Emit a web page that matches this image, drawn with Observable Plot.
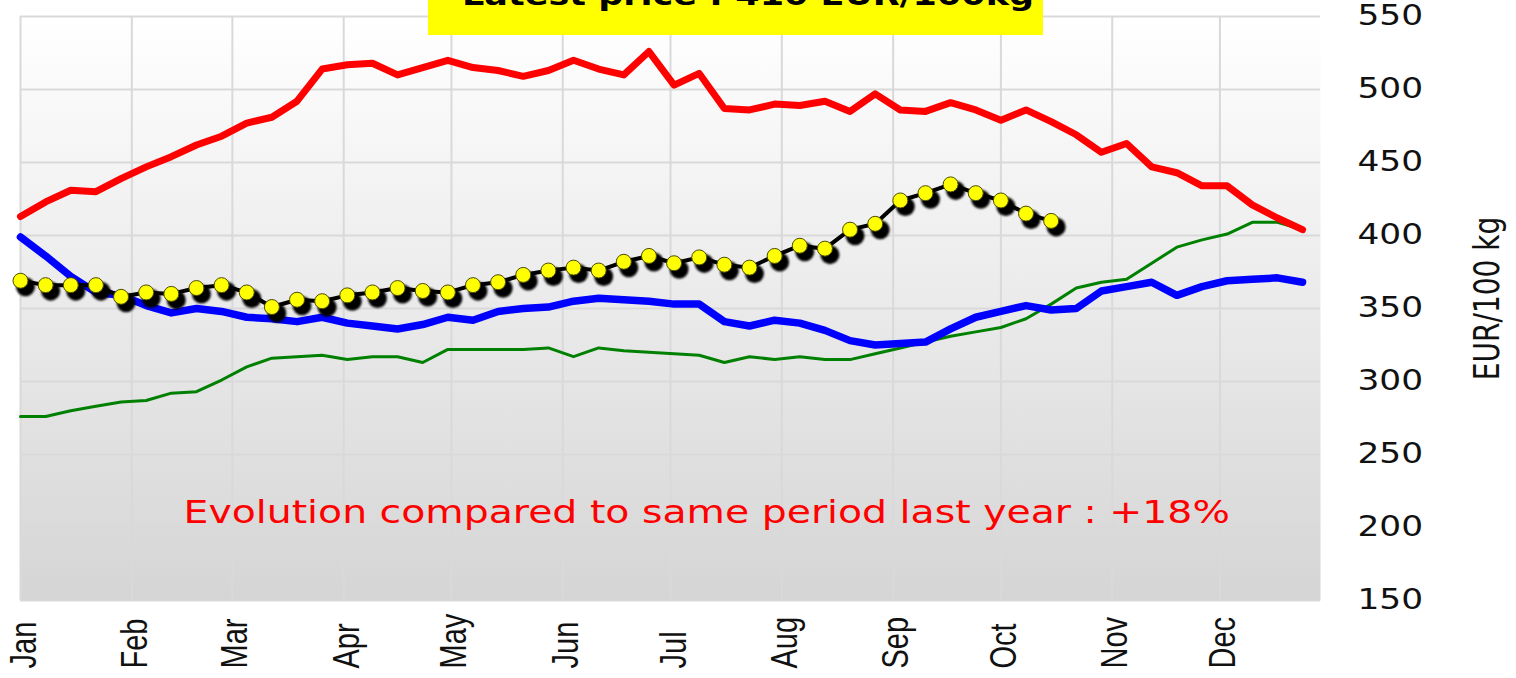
<!DOCTYPE html>
<html><head><meta charset="utf-8">
<script src="https://cdn.jsdelivr.net/npm/d3@7"></script>
<script src="https://cdn.jsdelivr.net/npm/@observablehq/plot@0.6"></script>
<style>
html,body{margin:0;padding:0;background:#fff;overflow:hidden}
#wrap{position:relative;width:1516px;height:678px}
#badge{position:absolute;left:428px;top:0;width:615px;height:35px;background:#ffff00;overflow:hidden}
#badge svg{display:block}
</style></head><body>
<div id="wrap"><div id="chart"></div><div id="badge"><svg width="615" height="35"><text id="badgeText" x="34" y="5" font-family="DejaVu Sans" font-weight="bold" font-size="28" fill="#000"></text></svg></div></div>
<script>
// ---- data (weekly, starting first week of January) ----
const monthLabels = ["Jan","Feb","Mar","Apr","May","Jun","Jul","Aug","Sep","Oct","Nov","Dec"];
const yTicks = [150, 200, 250, 300, 350, 400, 450, 500, 550];
const redValues = [413, 423, 431, 430, 439, 447, 454, 462, 468, 477, 481, 492, 514, 517, 518, 510, 515, 520, 515, 513, 509, 513, 520, 514, 510, 526, 503,
  511, 487, 486, 490, 489, 492, 485, 497, 486, 485, 491, 486, 479, 486, 478, 469, 457, 463, 447, 443, 434, 434, 421, 412, 404];
const blueValues = [399, 386, 372, 361, 359, 352, 347, 350, 348, 344, 343, 341, 344, 340, 338, 336, 339, 344, 342, 348, 350, 351, 355, 357, 356, 355, 353,
  353, 341, 338, 342, 340, 335, 328, 325, 326, 327, 336, 344, 348, 352, 349, 350, 362, 365, 368, 359, 365, 369, 370, 371, 368];
const greenValues = [276, 276, 280, 283, 286, 287, 292, 293, 301, 310, 316, 317, 318, 315, 317, 317, 313, 322, 322, 322, 322, 323, 317, 323, 321, 320, 319,
  318, 313, 317, 315, 317, 315, 315, 319, 323, 327, 331, 334, 337, 343, 353, 364, 368, 370, 381, 392, 397, 401, 409, 409, 404];
const currentValues = [369, 366, 366, 366, 358, 361, 360, 364, 366, 361, 351, 356, 355, 359, 361, 364, 362, 361, 366, 368, 373, 376, 378, 376, 382, 386, 381,
  385, 380, 378, 386, 393, 391, 404, 408, 424, 429, 435, 429, 424, 415, 410];
const latestPrice = "Latest price : 410 EUR/100kg";
const evolutionText = "Evolution compared to same period last year : +18%";
const yLabel = "EUR/100 kg";

// ---- build tables ----
const start = new Date(Date.UTC(2021, 0, 1));
const end = d3.utcDay.offset(start, 362);
const weekDate = i => d3.utcDay.offset(start, 7 * i);
const toRows = vals => vals.map((v, i) => ({date: weekDate(i), value: v}));
const red = toRows(redValues), blue = toRows(blueValues), green = toRows(greenValues), cur = toRows(currentValues);
const months = monthLabels.map((m, i) => ({date: new Date(Date.UTC(2021, i, 1)), label: m}));

const defsMark = () => {
  const g = d3.create("svg:g");
  const defs = g.append("defs");
  const lg = defs.append("linearGradient").attr("id", "bgGrad").attr("x1", 0).attr("y1", 0).attr("x2", 0).attr("y2", 1);
  lg.append("stop").attr("offset", "0%").attr("stop-color", "#ffffff");
  lg.append("stop").attr("offset", "100%").attr("stop-color", "#d5d5d5");
  defs.append("filter").attr("id", "blurF").attr("x", "-50%").attr("y", "-50%").attr("width", "200%").attr("height", "200%")
    .append("feGaussianBlur").attr("stdDeviation", 1.1);
  return g.node();
};

const grid = {stroke: "#d9d9d9", strokeWidth: 2, strokeOpacity: 1};

const chart = Plot.plot({
  width: 1516, height: 678,
  marginLeft: 20, marginRight: 196, marginTop: 16, marginBottom: 78,
  x: {type: "utc", domain: [start, end], axis: null},
  y: {domain: [150, 550], axis: null},
  style: {background: "transparent", overflow: "visible"},
  marks: [
    defsMark,
    Plot.frame({fill: "url(#bgGrad)", stroke: null}),
    Plot.gridY(yTicks, grid),
    Plot.gridX(months.map(d => d.date), grid),
    Plot.line(green, {x: "date", y: "value", stroke: "#008000", strokeWidth: 3}),
    Plot.line(blue, {x: "date", y: "value", stroke: "#0000ff", strokeWidth: 7.5}),
    Plot.line(red, {x: "date", y: "value", stroke: "#ff0000", strokeWidth: 7}),
    Plot.line(cur, {x: "date", y: "value", stroke: "#000000", strokeWidth: 4}),
    Plot.dot(cur, {x: "date", y: "value", r: 9.5, fill: "#000000", dx: 5, dy: 6}),
    Plot.dot(cur, {x: "date", y: "value", r: 7.5, fill: "#ffff00", stroke: "#4a4a00", strokeWidth: 1}),
    Plot.text(yTicks, {y: d => d, frameAnchor: "right", dx: 37, textAnchor: "start", fontSize: 27.5, fontFamily: "DejaVu Sans", fill: "#111"}),
    Plot.text(months, {x: "date", text: "label", frameAnchor: "bottom", dy: 68, dx: 15, rotate: -90, textAnchor: "start", fontSize: 29, fontFamily: "Liberation Sans", fill: "#111"}),
    Plot.text([yLabel], {text: d => d, frameAnchor: "right", dx: 167, dy: -10, rotate: -90, textAnchor: "middle", fontSize: 28, fontFamily: "DejaVu Sans", fill: "#111"}),
    Plot.text([evolutionText], {text: d => d, frameAnchor: "bottom-left", dx: 163, dy: -78, textAnchor: "start", fontSize: 31.5, fontFamily: "DejaVu Sans", fill: "#ff0000"})
  ]
});

// blur the dot shadows
const dotGroups = chart.querySelectorAll('g[aria-label="dot"]');
if (dotGroups.length) dotGroups[0].setAttribute("filter", "url(#blurF)");

document.getElementById("chart").appendChild(chart);
document.getElementById("badgeText").textContent = latestPrice;

// The reference rendering is stretched horizontally (~1.25x): widen horizontal texts, thicken rotated ones.
const SX = 1.25;
const stretchH = el => {
  const L = el.getComputedTextLength();
  el.setAttribute("textLength", (L * SX).toFixed(1));
  el.setAttribute("lengthAdjust", "spacingAndGlyphs");
};
const thickenV = (el, fs) => {
  const L = el.getComputedTextLength();
  el.style.fontSize = (fs * SX) + "px";
  el.setAttribute("font-size", fs * SX);
  el.setAttribute("textLength", L.toFixed(1));
  el.setAttribute("lengthAdjust", "spacingAndGlyphs");
};
const textGroups = chart.querySelectorAll('g[aria-label="text"]');
// order: yTicks, months, yLabel, evolution
textGroups[0].querySelectorAll("text").forEach(stretchH);
textGroups[1].querySelectorAll("text").forEach(t => thickenV(t, 29));
textGroups[1].setAttribute("font-size", 29 * SX);
textGroups[2].querySelectorAll("text").forEach(t => thickenV(t, 28));
textGroups[2].setAttribute("font-size", 28 * SX);
textGroups[3].querySelectorAll("text").forEach(stretchH);
const bt = document.getElementById("badgeText");
stretchH(bt);
</script>
</body></html>
